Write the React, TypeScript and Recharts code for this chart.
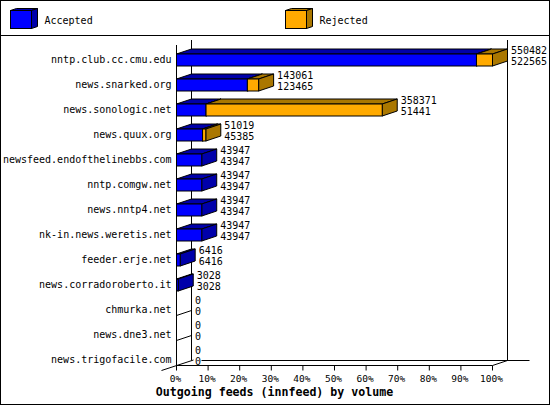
import { Bar, BarChart, LabelList, Legend, XAxis, YAxis } from "recharts";

const hosts = [
  "nntp.club.cc.cmu.edu", "news.snarked.org", "news.sonologic.net", "news.quux.org",
  "newsfeed.endofthelinebbs.com", "nntp.comgw.net", "news.nntp4.net", "nk-in.news.weretis.net",
  "feeder.erje.net", "news.corradoroberto.it", "chmurka.net", "news.dne3.net", "news.trigofacile.com",
];
const accepted = [522565, 123465, 51441, 45385, 43947, 43947, 43947, 43947, 6416, 3028, 0, 0, 0];
const offered = [550482, 143061, 358371, 51019, 43947, 43947, 43947, 43947, 6416, 3028, 0, 0, 0];
const percentTicks = [0, 10, 20, 30, 40, 50, 60, 70, 80, 90, 100];

const MAX = offered[0];
const rows = hosts.map((name, i) => ({ name, accepted: accepted[i], rejected: offered[i] - accepted[i] }));

const W = 550;
const H = 405;
const MONO = "'DejaVu Sans Mono', monospace";
const LEFT = 176.5;
const TOP = 40.5;
const PLOT_W = 316;
const PLOT_H = 325;
const DX = 15;
const DY = 5;
const BLUE = "#0000ff";
const BLUE_DARK = "#0000aa";
const ORANGE = "#ffaa00";
const ORANGE_DARK = "#aa7700";
const SHADE: Record<string, string> = { [BLUE]: BLUE_DARK, [ORANGE]: ORANGE_DARK };

function Box3D({ x, y, width, height, fill, dx = DX, dy = DY }: any) {
  const dark = SHADE[fill];
  return (
    <g stroke="#000" strokeWidth={1} strokeLinejoin="miter">
      <polygon fill={dark} points={`${x},${y} ${x + dx},${y - dy} ${x + width + dx},${y - dy} ${x + width},${y}`} />
      <polygon fill={dark} points={`${x + width},${y} ${x + width + dx},${y - dy} ${x + width + dx},${y + height - dy} ${x + width},${y + height}`} />
      <rect x={x} y={y} width={width} height={height} fill={fill} />
    </g>
  );
}

function BarShape(props: any) {
  const { x, y, width, height, fill } = props;
  if (!width || width <= 0) return null;
  return <Box3D x={x} y={y + height / 2 + 0.5} width={width} height={height} fill={fill} />;
}

function Walls() {
  const right = LEFT + PLOT_W;
  const bottom = TOP + PLOT_H;
  const band = PLOT_H / hosts.length;
  return (
    <g stroke="#000" strokeWidth={1} fill="none">
      <rect x={0.5} y={0.5} width={W - 1} height={H - 1} />
      <line x1={0} x2={W} y1={35.5} y2={35.5} />
      <line x1={LEFT} x2={LEFT} y1={45} y2={bottom} />
      <line x1={LEFT + DX} x2={LEFT + DX} y1={40} y2={bottom - DY} />
      <line x1={right + DX} x2={right + DX} y1={40} y2={bottom - DY} />
      <line x1={LEFT + 25} x2={right + 37} y1={bottom - DY} y2={bottom - DY} />
      <line x1={LEFT} x2={right} y1={bottom} y2={bottom} />
      <line x1={right} x2={right + DX} y1={bottom} y2={bottom - DY} />
      <line x1={LEFT - 15} x2={LEFT + DX + 2} y1={bottom + DY} y2={bottom - DY - 0.5} />
      {hosts.slice(0, -1).map((h, i) => {
        const y = TOP + band * (i + 1);
        return <line key={h} x1={LEFT} x2={LEFT + DX} y1={y} y2={y - DY} />;
      })}
    </g>
  );
}

function HostTick({ x, y, payload }: any) {
  return (
    <text x={x + 5} y={y + 6} dy={3.5} textAnchor="end" fontFamily={MONO} fontSize={10} fill="#000">
      {payload.value}
    </text>
  );
}

function PercentTick({ x, y, payload }: any) {
  return (
    <text x={x - 1} y={y + 9} textAnchor="middle" fontFamily={MONO} fontSize={9.5} fill="#000">
      {`${Math.round((payload.value / MAX) * 100)}%`}
    </text>
  );
}

function ValueLabels({ x, y, width, height, index }: any) {
  const lx = x + width + 18.5;
  const cy = y + height / 2;
  return (
    <g fontFamily={MONO} fontSize={10} fill="#000">
      <text x={lx} y={cy - 3} dy={3.5}>{offered[index]}</text>
      <text x={lx} y={cy + 8} dy={3.5}>{accepted[index]}</text>
    </g>
  );
}

function LegendBoxes({ payload }: any) {
  const slots = [10.5, 285.5];
  return (
    <svg width={W} height={36} style={{ display: "block" }}>
      {(payload ?? []).map((p: any, i: number) => (
        <g key={p.value}>
          <Box3D x={slots[i]} y={10.5} width={21} height={18} fill={p.color} dx={6} dy={2} />
          <text x={slots[i] + 34} y={24} fontFamily={MONO} fontSize={10} fill="#000">{p.value}</text>
        </g>
      ))}
    </svg>
  );
}

export default function App() {
  return (
    <div style={{ position: "absolute", left: 0, top: 0, width: W, height: H, background: "#fff" }}>
      <BarChart
        width={W}
        height={H}
        data={rows}
        layout="vertical"
        barSize={12}
        margin={{ top: TOP, right: W - LEFT - PLOT_W, bottom: 9.5, left: 0 }}
      >
        <Walls />
        <XAxis
          type="number"
          domain={[0, MAX]}
          ticks={percentTicks.map((p) => (p / 100) * MAX)}
          tick={<PercentTick />}
          tickLine={{ stroke: "#000" }}
          tickSize={5}
          tickMargin={2}
          axisLine={false}
          height={30}
          interval={0}
          label={{ value: "Outgoing feeds (innfeed) by volume", position: "insideBottom", offset: 0, dx: -60, fill: "#000", fontSize: 11.6, fontWeight: 700, fontFamily: MONO }}
        />
        <YAxis
          type="category"
          dataKey="name"
          width={LEFT}
          tick={<HostTick />}
          tickLine={false}
          axisLine={false}
          tickMargin={4}
          interval={0}
        />
        <Legend
          layout="horizontal"
          verticalAlign="middle"
          content={<LegendBoxes />}
          wrapperStyle={{ position: "absolute", left: 0, top: 0, width: W, height: 36 }}
        />
        <Bar dataKey="accepted" name="Accepted" stackId="a" fill={BLUE} shape={<BarShape />} isAnimationActive={false} />
        <Bar dataKey="rejected" name="Rejected" stackId="a" fill={ORANGE} shape={<BarShape />} isAnimationActive={false}>
          <LabelList content={<ValueLabels />} />
        </Bar>
      </BarChart>
    </div>
  );
}
